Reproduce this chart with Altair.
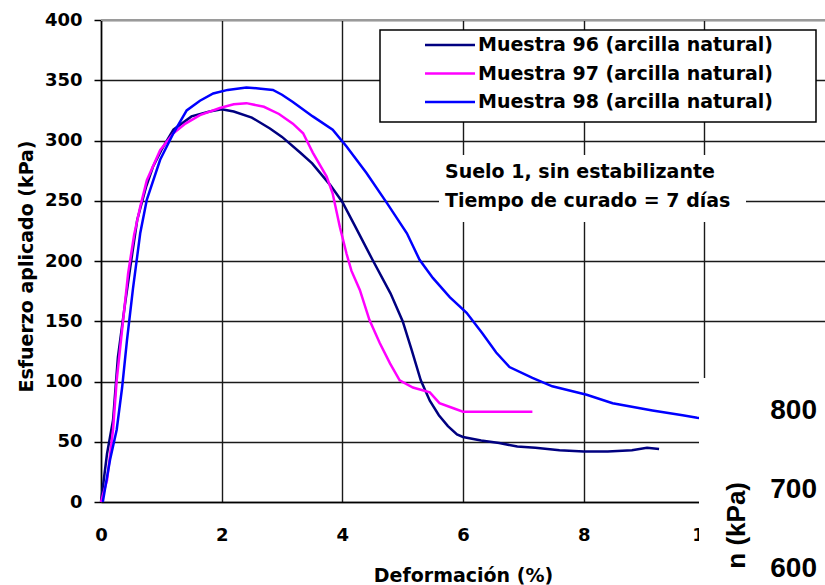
import altair as alt
import pandas as pd

series = ["Muestra 96 (arcilla natural)", "Muestra 97 (arcilla natural)", "Muestra 98 (arcilla natural)"]
colors = ["#000080", "#FF00FF", "#0000FF"]

x96 = [0, 0.05, 0.1, 0.2, 0.28, 0.4, 0.5, 0.6, 0.75, 0.86, 1.0, 1.2, 1.5, 1.8, 2.0, 2.2, 2.5, 2.8, 3.0,
       3.3, 3.5, 3.8, 4.0, 4.2, 4.5, 4.8, 5.0, 5.15, 5.3, 5.45, 5.6, 5.75, 5.9, 6.0, 6.3, 6.6, 6.9, 7.2,
       7.6, 8.0, 8.4, 8.8, 9.05, 9.25]
y96 = [0, 20, 40, 68, 120, 165, 200, 234, 262, 278, 292, 309, 320, 324, 326, 324, 319, 310, 303,
       290, 281, 263, 249, 230, 201, 173, 150, 126, 101, 84, 72, 63, 56, 54, 51, 49, 46, 45,
       43, 42, 42, 43, 45, 44]

x97 = [0, 0.1, 0.2, 0.26, 0.35, 0.45, 0.55, 0.65, 0.76, 0.98, 1.2, 1.4, 1.64, 1.97, 2.2, 2.41, 2.7,
       2.95, 3.18, 3.35, 3.51, 3.74, 3.84, 3.96, 4.07, 4.15, 4.29, 4.45, 4.62, 4.79, 4.95, 5.17, 5.45,
       5.61, 5.83, 6.0, 6.5, 7.15]
y97 = [0, 18, 60, 101, 143, 190, 222, 245, 267, 292, 306, 314, 321, 327, 330, 331, 328,
       322, 314, 306, 290, 270, 256, 228, 206, 192, 176, 151, 132, 115, 101, 95, 91,
       82, 78, 75, 75, 75]

x98 = [0.03, 0.08, 0.15, 0.26, 0.35, 0.43, 0.53, 0.65, 0.76, 0.98, 1.2, 1.42, 1.64, 1.86, 2.1, 2.41,
       2.65, 2.85, 3.0, 3.18, 3.51, 3.84, 4.07, 4.4, 4.74, 5.07, 5.28, 5.5, 5.78, 6.06, 6.32, 6.55,
       6.77, 7.15, 7.48, 8.05, 8.48, 9.14, 9.64, 9.88, 10.2]
y98 = [0, 15, 35, 60, 95, 134, 177, 223, 251, 284, 306, 325, 333, 339, 342, 344,
       343, 342, 338, 332, 320, 309, 295, 273, 248, 223, 201, 186, 170, 157, 140, 124,
       112, 103, 96, 89, 82, 76, 72, 70, 68]

x_ticks = [0, 2, 4, 6, 8, 10]
y_ticks = [0, 50, 100, 150, 200, 250, 300, 350, 400]
x_title = "Deformación (%)"
y_title = "Esfuerzo aplicado (kPa)"
annotation = ["Suelo 1, sin estabilizante", "Tiempo de curado = 7 días"]
other_ticks = ["800", "700", "600"]
other_title = "n (kPa)"

rows = []
for name, xs, ys in zip(series, [x96, x97, x98], [y96, y97, y98]):
    for i, (a, b) in enumerate(zip(xs, ys)):
        rows.append({"serie": name, "x": a, "y": b, "i": i})
df = pd.DataFrame(rows)
df_series = pd.DataFrame({"serie": series})
one = pd.DataFrame({"k": [0]})

W, H = 724, 482
FONT = "DejaVu Sans"

color = alt.Color("serie:N", scale=alt.Scale(domain=series, range=colors), legend=None)

lines = alt.Chart(df).mark_line(strokeWidth=2.5).encode(
    x=alt.X("x:Q", scale=alt.Scale(domain=[0, 12], nice=False, zero=False),
            axis=alt.Axis(values=x_ticks, title=x_title, tickSize=0, labelPadding=24,
                          titleY=79, titleBaseline="alphabetic", labelFlush=False,
                          labelOverlap=False)),
    y=alt.Y("y:Q", scale=alt.Scale(domain=[0, 400], nice=False),
            axis=alt.Axis(values=y_ticks, title=y_title, tickSize=7, labelPadding=12,
                          titleX=-69, titleY=246, titleAngle=270, titleAlign="center",
                          titleBaseline="alphabetic", labelOverlap=False)),
    color=color,
    order=alt.Order("i:Q"),
)

top_rule = alt.Chart(one).mark_rule(color="#9a9a9a", strokeWidth=2).encode(
    x=alt.value(0), x2=alt.value(W), y=alt.value(0))

legend_box = alt.Chart(one).mark_rect(fill="white", stroke="black", strokeWidth=1.5).encode(
    x=alt.value(279), x2=alt.value(715), y=alt.value(10), y2=alt.value(102))

leg_y = alt.Y("serie:N", scale=alt.Scale(type="point", domain=series, range=[25, 82], padding=0), axis=None)

legend_lines = alt.Chart(df_series).mark_rule(strokeWidth=2.5).encode(
    x=alt.value(324), x2=alt.value(374), y=leg_y, color=color)

legend_text = alt.Chart(df_series).mark_text(
    align="left", baseline="middle", font=FONT, fontWeight="bold", fontSize=19, color="black"
).encode(x=alt.value(377), y=leg_y, text="serie:N")

ann_box = alt.Chart(one).mark_rect(fill="white").encode(
    x=alt.value(338), x2=alt.value(645), y=alt.value(135), y2=alt.value(202))

ann_text = alt.Chart(pd.DataFrame({"t": ["\n".join(annotation)]})).mark_text(
    align="left", baseline="middle", font=FONT, fontWeight="bold", fontSize=19,
    color="black", lineBreak="\n", lineHeight=29
).encode(x=alt.value(344), y=alt.value(152), text="t:N")

cover = alt.Chart(one).mark_rect(fill="white").encode(
    x=alt.value(598), x2=alt.value(740), y=alt.value(358), y2=alt.value(600))

cover_ticks = alt.Chart(pd.DataFrame({"t": ["\n".join(other_ticks)]})).mark_text(
    align="right", baseline="middle", font="Liberation Sans", fontWeight="bold", fontSize=28,
    color="black", lineBreak="\n", lineHeight=79
).encode(x=alt.value(716), y=alt.value(391), text="t:N")

cover_title = alt.Chart(pd.DataFrame({"t": [other_title]})).mark_text(
    align="right", baseline="middle", angle=270, font="Liberation Sans", fontWeight="bold",
    fontSize=26, color="black"
).encode(x=alt.value(636), y=alt.value(462), text="t:N")

chart = alt.layer(
    lines, top_rule, legend_box, legend_lines, legend_text, ann_box, ann_text,
    cover, cover_ticks, cover_title
).resolve_scale(y="independent").properties(
    width=W, height=H,
    padding={"left": 101, "top": 20, "right": 0, "bottom": 83},
    autosize=alt.AutoSizeParams(type="none"),
    background="white",
).configure_view(stroke=None).configure_axis(
    labelFont=FONT, labelFontWeight="bold", labelFontSize=18, labelColor="black",
    titleFont=FONT, titleFontWeight="bold", titleFontSize=19, titleColor="black",
    domainColor="black", domainWidth=1.5, gridColor="#1a1a1a", gridWidth=1.4,
    tickColor="black", tickWidth=1.5,
)

chart.save("out.html", embed_options={"renderer": "svg", "actions": False})
